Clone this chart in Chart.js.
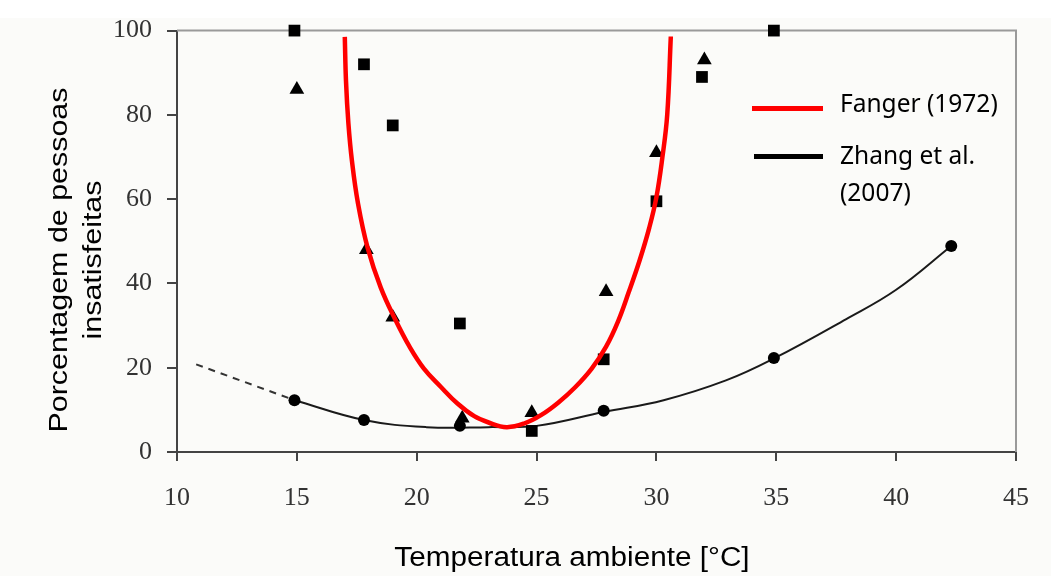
<!DOCTYPE html>
<html><head><meta charset="utf-8">
<script src="https://cdn.jsdelivr.net/npm/chart.js@4.4.1/dist/chart.umd.min.js"></script>
<style>
html,body{margin:0;padding:0;background:#fbfbf9;}
#wrap{position:relative;width:1051px;height:576px;overflow:hidden;background:#fbfbf9;}
#topband{position:absolute;left:0;top:0;width:1051px;height:18px;background:#fff;}
canvas{position:absolute;left:0;top:0;}
.ytitle{position:absolute;left:-125px;top:226px;width:400px;height:68px;font:26px "Liberation Sans",Arial,sans-serif;line-height:34px;text-align:center;color:#000;transform:rotate(-90deg) scaleX(1.17);white-space:nowrap;}
.xtitle{position:absolute;left:72px;top:542px;width:1000px;font:27px "Liberation Sans",Arial,sans-serif;line-height:30px;text-align:center;color:#000;transform:scaleX(1.1);white-space:nowrap;}
.lg{position:absolute;left:840px;font:24.5px "Noto Sans",sans-serif;line-height:36px;color:#000;white-space:nowrap;}
.lgline{position:absolute;height:5px;}
</style></head>
<body>
<div id="wrap">
<div id="topband"></div>
<canvas id="c" width="1051" height="576"></canvas>
<div class="ytitle">Porcentagem de pessoas<br>insatisfeitas</div>
<div class="xtitle">Temperatura ambiente [°C]</div>
<div class="lgline" style="left:752px;top:106px;width:71px;background:#ff0000;"></div>
<div class="lg" style="top:85px;">Fanger (1972)</div>
<div class="lgline" style="left:754px;top:154px;width:69px;background:#000;"></div>
<div class="lg" style="top:137px;">Zhang et al.</div>
<div class="lg" style="top:174px;">(2007)</div>
</div>
<script>
const xTicks = [10, 15, 20, 25, 30, 35, 40, 45];
const yTicks = [0, 20, 40, 60, 80, 100];

const squareTemp = [14.9, 17.8, 19.0, 21.8, 24.8, 27.8, 30.0, 31.9, 34.9];
const squarePct  = [100, 92, 77.5, 30.5, 5, 22, 59.5, 89, 100];

const triangleTemp = [15.0, 17.9, 19.0, 21.9, 24.8, 27.9, 30.0, 32.0];
const trianglePct  = [86, 48, 32, 8, 9.3, 38, 71, 93];

const circleTemp = [14.9, 17.8, 21.8, 27.8, 34.9, 42.3];
const circlePct  = [12.3, 7.6, 6.2, 9.8, 22.3, 48.9];

const fangerTemp = [17.0, 17.05, 17.15, 17.3, 17.55, 17.95, 18.5, 19.1, 19.7, 20.3, 21.0, 21.7, 22.4, 23.0, 23.75, 24.5, 25.2, 25.9, 26.6, 27.3, 27.9, 28.4, 28.85, 29.3, 29.7, 30.0, 30.25, 30.45, 30.6];
const fangerPct  = [98.5, 88, 78, 69, 59, 48.5, 39, 31.5, 25, 19.8, 15.5, 11.5, 8.5, 7.0, 5.9, 6.8, 8.8, 11.7, 15.3, 19.8, 25, 31, 38, 45.5, 53.2, 60.5, 70, 80, 98.6];

const zhangTemp = [14.9, 17.8, 20.4, 23.0, 25.0, 27.8, 30.3, 32.9, 34.9, 37.9, 40.0, 42.3];
const zhangPct  = [12.3, 7.6, 5.9, 5.9, 6.2, 9.5, 12.3, 17.0, 22.2, 31.5, 38.5, 48.9];

const zhangExtTemp = [10.8, 14.9];
const zhangExtPct  = [20.8, 12.3];

const pts = (xs, ys) => xs.map((x, i) => ({x: x, y: ys[i]}));

const frame = {
  id: 'frame',
  beforeDatasetsDraw(chart) {
    const {ctx, chartArea: {left, top, right, bottom}} = chart;
    ctx.save();
    ctx.strokeStyle = '#9a9a9a';
    ctx.lineWidth = 2;
    ctx.beginPath();
    ctx.moveTo(left, top);
    ctx.lineTo(right, top);
    ctx.lineTo(right, bottom);
    ctx.stroke();
    ctx.restore();
  }
};

new Chart(document.getElementById('c'), {
  type: 'scatter',
  data: {
    datasets: [
      {label: 'Fanger (1972)', data: pts(fangerTemp, fangerPct), showLine: true, borderColor: '#ff0000', borderWidth: 4.5, pointRadius: 0, tension: 0.4, clip: false},
      {label: 'squares', data: pts(squareTemp, squarePct), pointStyle: 'rect', pointRadius: 8.3, backgroundColor: '#000', borderWidth: 0, clip: false},
      {label: 'triangles', data: pts(triangleTemp, trianglePct), pointStyle: 'triangle', pointRadius: 8.5, backgroundColor: '#000', borderWidth: 0, clip: false},
      {label: 'circles', data: pts(circleTemp, circlePct), pointStyle: 'circle', pointRadius: 6, backgroundColor: '#000', borderWidth: 0, clip: false},
      {label: 'Zhang et al. (2007)', data: pts(zhangTemp, zhangPct), showLine: true, borderColor: '#1a1a1a', borderWidth: 2, pointRadius: 0, tension: 0.4, clip: false},
      {label: 'Zhang ext', data: pts(zhangExtTemp, zhangExtPct), showLine: true, borderColor: '#333', borderWidth: 2, borderDash: [7, 6], pointRadius: 0, clip: false}
    ]
  },
  options: {
    responsive: false,
    animation: false,
    devicePixelRatio: 1,
    layout: {padding: {left: 0, top: 29, right: 27, bottom: 0}},
    plugins: {legend: {display: false}, tooltip: {enabled: false}},
    scales: {
      x: {
        type: 'linear', min: 10, max: 45,
        afterBuildTicks: s => { s.ticks = xTicks.map(v => ({value: v})); },
        afterFit: s => { s.height = 124; },
        grid: {drawOnChartArea: false, drawTicks: true, tickLength: 9, color: '#444', lineWidth: 2},
        border: {display: true, color: '#444', width: 2},
        ticks: {font: {family: 'Liberation Serif', size: 26}, color: '#333', padding: 22, maxRotation: 0}
      },
      y: {
        type: 'linear', min: 0, max: 100,
        afterBuildTicks: s => { s.ticks = yTicks.map(v => ({value: v})); },
        afterFit: s => { s.width = 177; },
        grid: {drawOnChartArea: false, drawTicks: true, tickLength: 10, color: '#444', lineWidth: 2},
        border: {display: true, color: '#444', width: 2},
        ticks: {font: {family: 'Liberation Serif', size: 26}, color: '#333', padding: 15}
      }
    }
  },
  plugins: [frame]
});
</script>
</body></html>
